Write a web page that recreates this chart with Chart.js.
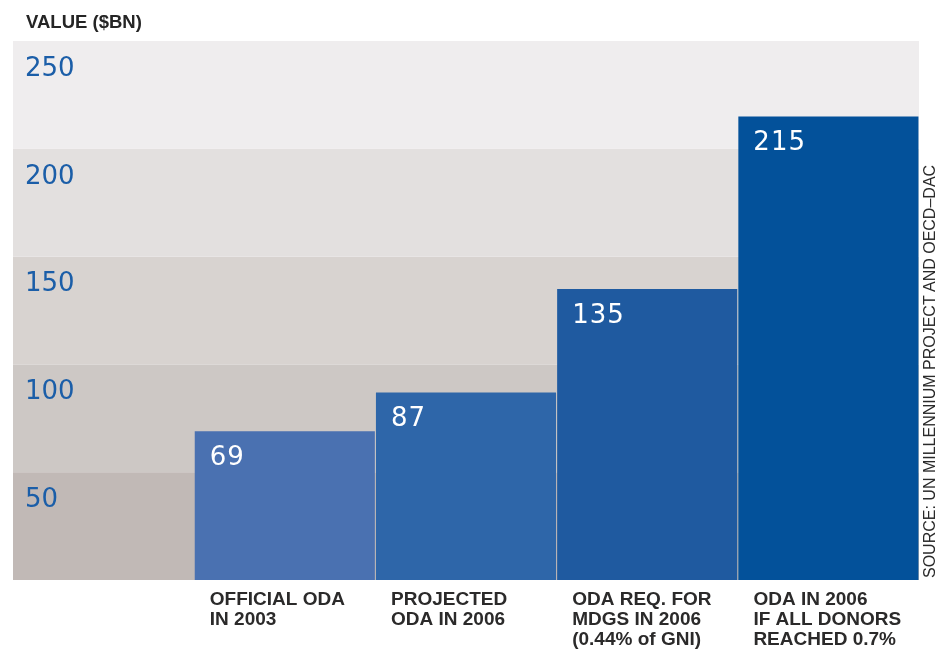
<!DOCTYPE html>
<html>
<head>
<meta charset="utf-8">
<script src="https://cdn.jsdelivr.net/npm/chart.js@4.4.1/dist/chart.umd.min.js"></script>
<style>
  html, body { margin: 0; padding: 0; background: #ffffff; }
  #wrap { position: relative; width: 938px; height: 650px; }
  #c { position: absolute; left: 0; top: 0; }
  #ytitle { position: absolute; left: 26px; top: 11px; font-family: "Liberation Sans", Arial, sans-serif; font-weight: bold; font-size: 18.5px; color: #252525; white-space: nowrap; line-height: 22px; }
  #source { position: absolute; left: 930px; top: 578px; transform-origin: 0 0; transform: rotate(-90deg) translateY(-50%); font-family: "Liberation Sans", Arial, sans-serif; font-size: 16px; color: #2a2a2a; white-space: nowrap; line-height: 16px; }
</style>
</head>
<body>
<div id="wrap">
  <canvas id="c" width="938" height="650"></canvas>
  <div id="ytitle">VALUE ($BN)</div>
  <div id="source">SOURCE: UN MILLENNIUM PROJECT AND OECD–DAC</div>
</div>
<script>
// ---- data ----
const categories = [
  [""],
  ["OFFICIAL ODA", "IN 2003"],
  ["PROJECTED", "ODA IN 2006"],
  ["ODA REQ. FOR", "MDGS IN 2006", "(0.44% of GNI)"],
  ["ODA IN 2006", "IF ALL DONORS", "REACHED 0.7%"]
];
const values = [null, 69, 87, 135, 215];
const yTicks = [0, 50, 100, 150, 200, 250];

// ---- styles ----
const barColors = ["#4a71b1", "#4a71b1", "#2e66a9", "#1f5aa0", "#03519a"];
const bandColors = ["#c1b9b6", "#cdc8c5", "#d8d3d0", "#e3e0df", "#efedee"];

const bandPlugin = {
  id: "bands",
  beforeDraw(chart) {
    const y = chart.scales.y;
    const a = chart.chartArea;
    const ctx = chart.ctx;
    ctx.save();
    for (let i = 0; i < yTicks.length - 1; i++) {
      const top = y.getPixelForValue(yTicks[i + 1]);
      const bot = y.getPixelForValue(yTicks[i]);
      ctx.fillStyle = bandColors[i];
      ctx.fillRect(a.left, top, a.right - a.left, bot - top);
    }
    ctx.restore();
  }
};

const valueLabelPlugin = {
  id: "valueLabels",
  afterDatasetsDraw(chart) {
    const meta = chart.getDatasetMeta(0);
    const ctx = chart.ctx;
    ctx.save();
    ctx.fillStyle = "#ffffff";
    ctx.font = "26px 'DejaVu Sans'";
    ctx.letterSpacing = "1px";
    ctx.textAlign = "left";
    ctx.textBaseline = "middle";
    meta.data.forEach((bar, i) => {
      const v = values[i];
      if (v === null || v === undefined) return;
      ctx.fillText(String(v), bar.x - bar.width / 2 + 15, bar.y + 27);
    });
    ctx.restore();
  }
};

new Chart(document.getElementById("c"), {
  type: "bar",
  data: {
    labels: categories,
    datasets: [{
      data: values,
      backgroundColor: barColors,
      borderWidth: 0,
      barPercentage: 1,
      categoryPercentage: 0.994
    }]
  },
  options: {
    responsive: false,
    animation: false,
    devicePixelRatio: 1,
    layout: { padding: { left: 13, right: 19, top: 41, bottom: 0 } },
    plugins: { legend: { display: false }, tooltip: { enabled: false }, title: { display: false } },
    scales: {
      x: {
        grid: { display: false, drawTicks: false },
        border: { display: false },
        afterFit(scale) { scale.height = 70; scale.paddingLeft = 0; scale.paddingRight = 0; },
        ticks: {
          autoSkip: false,
          maxRotation: 0,
          minRotation: 0,
          align: "start",
          labelOffset: -75,
          padding: 10,
          color: "#2b2a2a",
          font: { family: "Liberation Sans", weight: "bold", size: 19, lineHeight: "20px" }
        }
      },
      y: {
        min: 0,
        max: 250,
        grid: { display: false, drawTicks: false },
        border: { display: false },
        afterBuildTicks(scale) { scale.ticks = yTicks.map(v => ({ value: v })); },
        afterFit(scale) { scale.width = 0; scale.paddingTop = 0; scale.paddingBottom = 0; },
        ticks: {
          mirror: true,
          padding: 12,
          labelOffset: 28,
          color: "#1b5ea8",
          font: { family: "DejaVu Sans", weight: "normal", size: 26 },
          callback: (v) => (v === 0 ? "" : String(v))
        }
      }
    }
  },
  plugins: [bandPlugin, valueLabelPlugin]
});
</script>
</body>
</html>
